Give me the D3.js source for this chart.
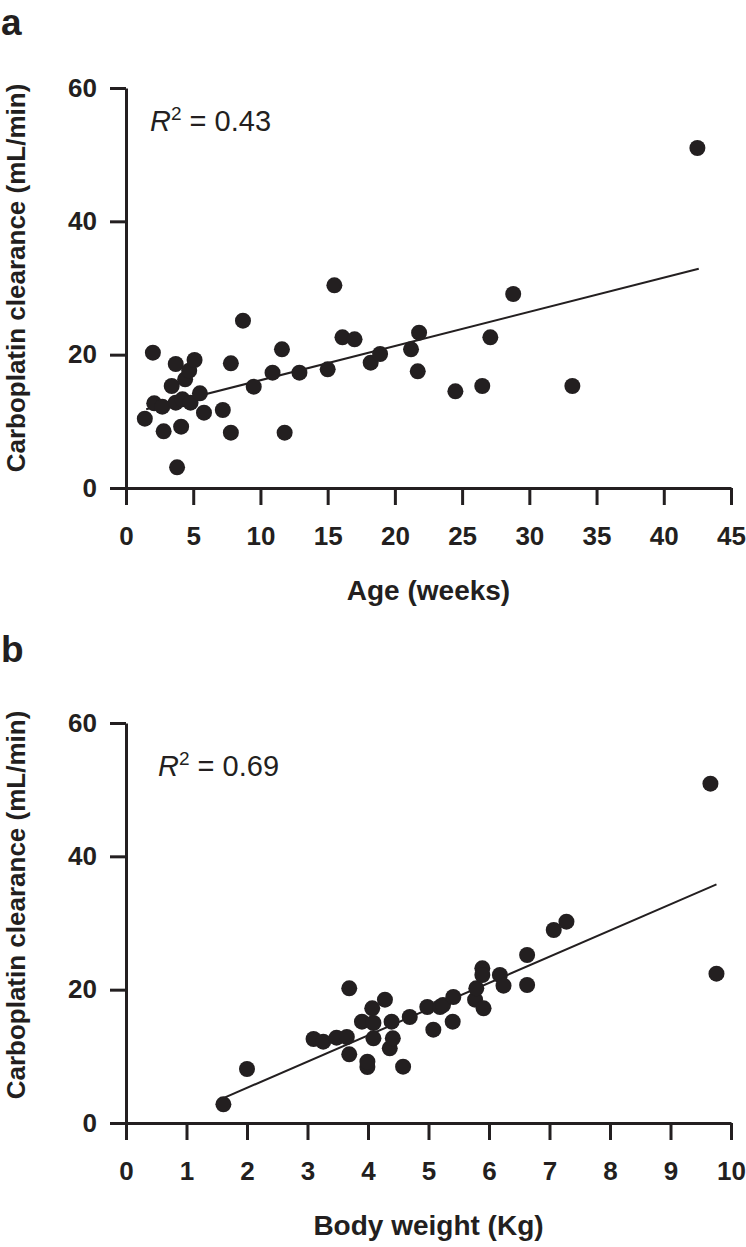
<!DOCTYPE html>
<html><head><meta charset="utf-8">
<script src="https://cdn.jsdelivr.net/npm/d3@7"></script>
<style>
html,body{margin:0;padding:0;background:#fff;}
svg{display:block;}
</style>
</head><body>
<script>
// Panel a: Age (weeks) vs carboplatin clearance
const ageWeeks = [1.4, 2.0, 2.1, 2.7, 2.8, 3.4, 3.7, 3.7, 3.8, 4.1, 4.2, 4.4, 4.7, 4.8, 5.1, 5.5, 5.8, 7.2, 7.8, 7.8, 8.7, 9.5, 10.9, 11.6, 11.8, 12.9, 15.0, 15.5, 16.1, 17.0, 18.2, 18.9, 21.2, 21.7, 21.8, 24.5, 26.5, 27.1, 28.8, 33.2, 42.5];
const clearanceA = [10.4, 20.3, 12.7, 12.2, 8.5, 15.3, 18.6, 12.8, 3.1, 9.2, 13.3, 16.3, 17.6, 12.8, 19.2, 14.2, 11.3, 11.7, 18.7, 8.3, 25.1, 15.2, 17.3, 20.8, 8.3, 17.3, 17.8, 30.4, 22.6, 22.3, 18.8, 20.1, 20.8, 17.5, 23.3, 14.5, 15.3, 22.6, 29.1, 15.3, 51.0];
const fitAx = [1.5, 42.6];
const fitAy = [11.8, 32.9];
const xTicksA = [0, 5, 10, 15, 20, 25, 30, 35, 40, 45];

// Panel b: Body weight (Kg) vs carboplatin clearance
const bodyWeight = [1.61, 2.0, 3.10, 3.26, 3.48, 3.65, 3.69, 3.69, 3.9, 3.99, 3.99, 4.07, 4.09, 4.09, 4.28, 4.36, 4.39, 4.41, 4.58, 4.69, 4.98, 5.08, 5.19, 5.24, 5.4, 5.41, 5.77, 5.79, 5.89, 5.89, 5.91, 6.18, 6.24, 6.63, 6.63, 7.07, 7.28, 9.66, 9.76];
const clearanceB = [2.8, 8.1, 12.6, 12.2, 12.8, 12.9, 20.2, 10.3, 15.2, 8.4, 9.2, 17.2, 15.0, 12.7, 18.5, 11.2, 15.2, 12.7, 8.45, 15.9, 17.4, 14.0, 17.4, 17.7, 15.2, 18.9, 18.5, 20.2, 23.2, 22.2, 17.2, 22.2, 20.6, 25.2, 20.7, 28.95, 30.2, 50.9, 22.4];
const fitBx = [1.6, 9.76];
const fitBy = [3.7, 35.8];
const xTicksB = [0, 1, 2, 3, 4, 5, 6, 7, 8, 9, 10];

const yTicks = [0, 20, 40, 60];
const yTitle = "Carboplatin clearance (mL/min)";

const W = 746, H = 1247;
const INK = "#231f20";
const FONT = "'Liberation Sans', Arial, Helvetica, sans-serif";

const svg = d3.select("body").append("svg").attr("width", W).attr("height", H)
  .style("font-family", FONT);

function panel(opts) {
  const x = d3.scaleLinear().domain(opts.xDomain).range([126, 731]);
  const y = d3.scaleLinear().domain([0, 60]).range([opts.y0, opts.y0 - 400]);
  const g = svg.append("g");

  // panel letter
  g.append("text").attr("x", 1).attr("y", opts.letterY).text(opts.letter)
    .attr("font-size", 37).attr("font-weight", "bold").attr("fill", INK);

  // y axis
  const ya = g.append("g").attr("transform", `translate(${x(0)},0)`)
    .call(d3.axisLeft(y).tickValues(yTicks).tickSize(16).tickSizeOuter(0).tickPadding(13));
  // x axis
  const xa = g.append("g").attr("transform", `translate(0,${y(0)})`)
    .call(d3.axisBottom(x).tickValues(opts.xTicks).tickSize(17).tickSizeOuter(0).tickPadding(22));
  [ya, xa].forEach(a => {
    a.selectAll("path.domain").attr("stroke", INK).attr("stroke-width", 3);
    a.selectAll(".tick line").attr("stroke", INK).attr("stroke-width", 3);
    a.selectAll(".tick text").attr("fill", INK).attr("font-size", 26)
      .attr("font-weight", "bold").attr("font-family", FONT);
  });

  // y title
  g.append("text")
    .attr("transform", `translate(25,${opts.yTitleY}) rotate(-90)`)
    .attr("text-anchor", "middle")
    .attr("font-size", 26).attr("font-weight", "bold").attr("fill", INK)
    .text(yTitle);

  // x title
  g.append("text").attr("x", (x.range()[0] + x.range()[1]) / 2).attr("y", opts.y0 + 112)
    .attr("text-anchor", "middle").attr("font-size", 28).attr("font-weight", "bold")
    .attr("fill", INK).text(opts.xTitle);

  // regression line
  const fit = opts.fitX.map((v, i) => [v, opts.fitY[i]]);
  g.append("path").datum(fit)
    .attr("d", d3.line().x(d => x(d[0])).y(d => y(d[1])))
    .attr("stroke", INK).attr("stroke-width", 2).attr("fill", "none");

  // points
  const pts = opts.xs.map((v, i) => [v, opts.ys[i]]);
  g.append("g").selectAll("circle").data(pts).join("circle")
    .attr("cx", d => x(d[0])).attr("cy", d => y(d[1])).attr("r", 8)
    .attr("fill", INK);

  // R² annotation
  const t = g.append("text").attr("x", opts.rX).attr("y", opts.rY)
    .attr("font-size", 29).attr("fill", INK);
  t.append("tspan").attr("font-style", "italic").text("R");
  t.append("tspan").attr("font-size", 19).attr("dy", -11).text("2");
  t.append("tspan").attr("dy", 11).text(" = " + opts.r2);
}

panel({
  letter: "a", letterY: 35, y0: 488, xDomain: [0, 45], xTicks: xTicksA,
  xs: ageWeeks, ys: clearanceA, fitX: fitAx, fitY: fitAy,
  xTitle: "Age (weeks)", yTitleY: 278, rX: 150, rY: 131, r2: "0.43"
});
panel({
  letter: "b", letterY: 662, y0: 1123, xDomain: [0, 10], xTicks: xTicksB,
  xs: bodyWeight, ys: clearanceB, fitX: fitBx, fitY: fitBy,
  xTitle: "Body weight (Kg)", yTitleY: 905, rX: 158, rY: 776, r2: "0.69"
});
</script>
</body></html>
